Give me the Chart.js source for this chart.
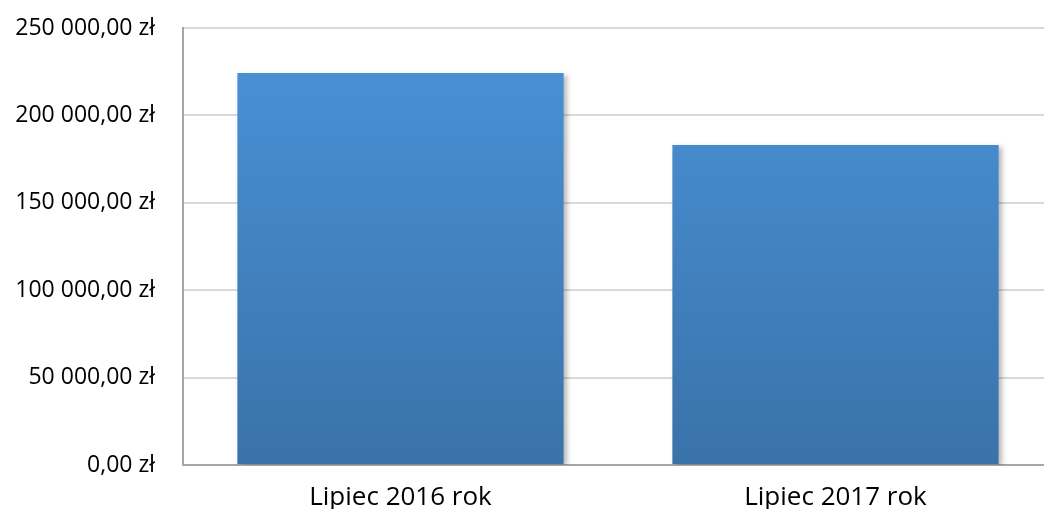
<!DOCTYPE html>
<html>
<head>
<meta charset="utf-8">
<script src="https://cdn.jsdelivr.net/npm/chart.js@4.4.0/dist/chart.umd.min.js"></script>
<style>
    html, body { margin: 0; padding: 0; background: #fff; overflow: hidden; }
    #wrap { width: 1044px; height: 509px; overflow: hidden; position: relative; }
    #chartBox { position: absolute; left: 0; top: 0; width: 1060px; height: 530px; }
</style>
</head>
<body>
<div id="wrap">
    <div id="chartBox"><canvas id="salesChart"></canvas></div>
</div>
<script>
// ===== Dane =====
const categories = ['Lipiec 2016 rok', 'Lipiec 2017 rok'];
const values = [224300, 183000];
const tickValues = [0, 50000, 100000, 150000, 200000, 250000];

// ===== Format zł =====
function formatZl(v) {
    const parts = v.toFixed(2).split('.');
    const whole = parts[0].replace(/\B(?=(\d{3})+(?!\d))/g, ' ');
    return whole + ',' + parts[1] + ' zł';
}

// ===== Gradient dla słupków =====
function barGradient(context) {
    const chart = context.chart;
    const area = chart.chartArea;
    if (!area) return '#4a8fd4';
    const g = chart.ctx.createLinearGradient(0, area.top, 0, area.bottom);
    g.addColorStop(0, '#4a93d9');
    g.addColorStop(1, '#3a72a9');
    return g;
}

// ===== Cień słupków =====
const shadowPlugin = {
    id: 'barShadow',
    beforeDatasetsDraw(chart) {
        const ctx = chart.ctx;
        ctx.save();
        ctx.shadowColor = 'rgba(0,0,0,0.28)';
        ctx.shadowBlur = 5;
        ctx.shadowOffsetX = 3;
        ctx.shadowOffsetY = 2;
    },
    afterDatasetsDraw(chart) {
        chart.ctx.restore();
    }
};

const ctx = document.getElementById('salesChart').getContext('2d');
new Chart(ctx, {
    type: 'bar',
    data: {
        labels: categories,
        datasets: [{
            data: values,
            backgroundColor: barGradient,
            borderWidth: 0,
            barPercentage: 0.75,
            categoryPercentage: 1
        }]
    },
    options: {
        responsive: true,
        maintainAspectRatio: false,
        animation: false,
        layout: { padding: { top: 28, right: 7, left: 0, bottom: 0 } },
        plugins: {
            legend: { display: false },
            tooltip: { enabled: false }
        },
        scales: {
            x: {
                grid: { display: false, drawTicks: false },
                border: { display: true, color: '#a6a6a6', width: 2 },
                ticks: {
                    color: '#000',
                    padding: 17,
                    font: { family: 'Open Sans', size: 26 }
                },
                afterFit(scale) {
                    scale.height = 65;
                    scale.paddingLeft = 0;
                    scale.paddingRight = 0;
                }
            },
            y: {
                min: 0,
                max: 250000,
                afterBuildTicks(scale) {
                    scale.ticks = tickValues.map(v => ({ value: v }));
                },
                grid: { color: '#d9d9d9', lineWidth: 2, drawTicks: false },
                border: { display: true, color: '#a6a6a6', width: 2 },
                ticks: {
                    color: '#000',
                    padding: 28,
                    font: { family: 'Open Sans', size: 23 },
                    callback: v => formatZl(v)
                },
                afterFit(scale) {
                    scale.width = 183;
                    scale.paddingTop = 0;
                    scale.paddingBottom = 0;
                }
            }
        }
    },
    plugins: [shadowPlugin]
});
</script>
</body>
</html>
